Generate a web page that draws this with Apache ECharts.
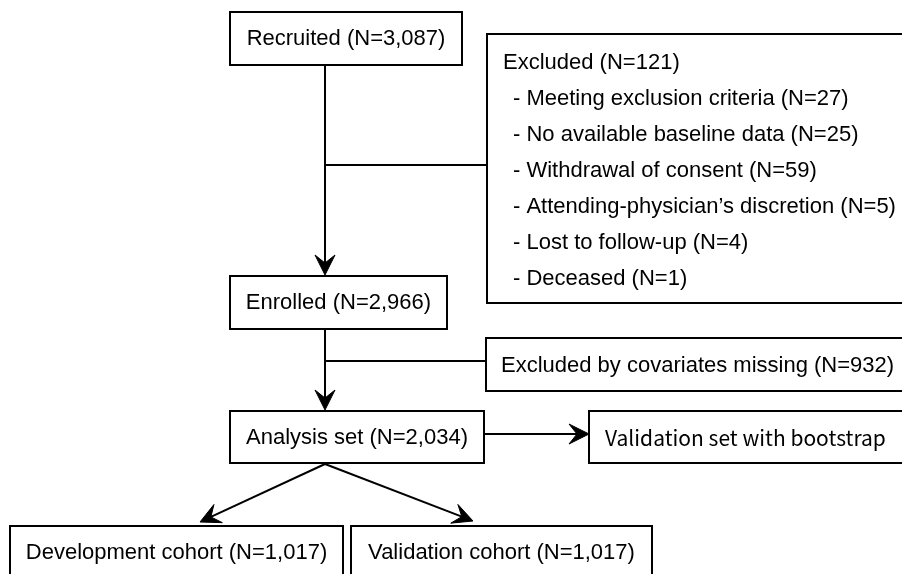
<!DOCTYPE html>
<html>
<head>
<meta charset="utf-8">
<script src="https://cdn.jsdelivr.net/npm/echarts@6/dist/echarts.min.js"></script>
<style>
  html, body { margin: 0; background: #fff; }
  #chart { width: 902px; height: 574px; }
</style>
</head>
<body>
<div id="chart"></div>
<script>
// ---- flow numbers ----
const stageNames = ['Recruited', 'Enrolled', 'Analysis set']
const stageN = [3087, 2966, 2034]
const excludedTotal = 121
const excludedReasons = [
  'Meeting exclusion criteria',
  'No available baseline data',
  'Withdrawal of consent',
  'Attending-physician\u2019s discretion',
  'Lost to follow-up',
  'Deceased'
]
const excludedN = [27, 25, 59, 5, 4, 1]
const covariatesMissingN = 932
const cohortNames = ['Development cohort', 'Validation cohort']
const cohortN = [1017, 1017]
const bootstrapLabel = 'Validation set with bootstrap'

const fmt = n => '(N=' + n.toLocaleString('en-US') + ')'

// ---- layout (units of the hidden axes = pixels) ----
const FONT = '22px "Liberation Sans", Arial, sans-serif'
const FONT_JP = '21px "Noto Sans CJK JP", sans-serif'

// box rectangles: x0, y0, x1, y1
const boxRects = [
  [230, 12, 462, 65],   // recruited
  [230, 276, 447, 329], // enrolled
  [230, 411, 484, 463], // analysis
  [487, 34, 912, 303],  // excluded list
  [486, 338, 912, 391], // covariates missing
  [589, 411, 912, 463], // bootstrap
  [10, 526, 343, 600],  // development
  [351, 526, 652, 600]  // validation cohort
]
const boxTexts = [
  { t: stageNames[0] + ' ' + fmt(stageN[0]), align: 'center', y: 39 },
  { t: stageNames[1] + ' ' + fmt(stageN[1]), align: 'center', y: 303 },
  { t: stageNames[2] + ' ' + fmt(stageN[2]), align: 'center', y: 438 },
  null,
  { t: 'Excluded by covariates missing ' + fmt(covariatesMissingN), align: 'left', x: 501, y: 366 },
  { t: bootstrapLabel, align: 'left', x: 605, y: 438, font: FONT_JP },
  { t: cohortNames[0] + ' ' + fmt(cohortN[0]), align: 'center', y: 553 },
  { t: cohortNames[1] + ' ' + fmt(cohortN[1]), align: 'center', y: 553 }
]

// connectors: x0, y0, x1, y1, arrow(1/0)
const links = [
  [325, 65, 325, 275, 1],
  [325, 165, 487, 165, 0],
  [325, 329, 325, 410, 1],
  [325, 361, 486, 361, 0],
  [484, 434, 589, 434, 1],
  [325, 464, 200, 522, 1],
  [325, 464, 473, 521, 1]
]

// excluded list lines
const listLines = ['Excluded ' + fmt(excludedTotal)].concat(
  excludedReasons.map((r, i) => '- ' + r + ' ' + fmt(excludedN[i]))
)
const listData = listLines.map((s, i) => [i === 0 ? 503 : 513, 63 + i * 36])

function arrowHead(p, q, len, half, notch) {
  const dx = q[0] - p[0], dy = q[1] - p[1]
  const d = Math.hypot(dx, dy)
  const ux = dx / d, uy = dy / d, nx = -uy, ny = ux
  const bx = q[0] - ux * len, by = q[1] - uy * len
  return {
    pts: [
      q,
      [bx + nx * half, by + ny * half],
      [q[0] - ux * (len - notch), q[1] - uy * (len - notch)],
      [bx - nx * half, by - ny * half]
    ],
    base: [q[0] - ux * (len - notch), q[1] - uy * (len - notch)]
  }
}

const chart = echarts.init(document.getElementById('chart'))
const option = {
  animation: false,
  backgroundColor: '#fff',
  grid: { left: 0, right: 0, top: 0, bottom: 0 },
  xAxis: { type: 'value', min: 0, max: 902, show: false },
  yAxis: { type: 'value', min: 0, max: 574, inverse: true, show: false },
  series: [
    {
      type: 'custom',
      name: 'boxes',
      data: boxRects,
      encode: { x: [0, 2], y: [1, 3] },
      renderItem: function(params, api) {
        const a = api.coord([api.value(0), api.value(1)])
        const b = api.coord([api.value(2), api.value(3)])
        const children = [{
          type: 'rect',
          shape: { x: a[0], y: a[1], width: b[0] - a[0], height: b[1] - a[1] },
          style: { fill: '#fff', stroke: '#000', lineWidth: 2 }
        }]
        const tx = boxTexts[params.dataIndex]
        if (tx) {
          const px = tx.align === 'center' ? (a[0] + b[0]) / 2 : api.coord([tx.x, 0])[0]
          const py = api.coord([0, tx.y])[1]
          children.push({
            type: 'text',
            style: {
              text: tx.t, x: px, y: py, fill: '#000',
              font: tx.font || FONT, align: tx.align, verticalAlign: 'middle'
            }
          })
        }
        return { type: 'group', children: children }
      }
    },
    {
      type: 'custom',
      name: 'links',
      data: links,
      encode: { x: [0, 2], y: [1, 3] },
      renderItem: function(params, api) {
        const p = api.coord([api.value(0), api.value(1)])
        const q = api.coord([api.value(2), api.value(3)])
        const children = []
        let end = q
        if (api.value(4)) {
          const h = arrowHead(p, q, 20, 10, 8)
          end = h.base
          children.push({
            type: 'polygon',
            shape: { points: h.pts },
            style: { fill: '#000', stroke: '#000', lineWidth: 1 }
          })
        }
        children.unshift({
          type: 'line',
          shape: { x1: p[0], y1: p[1], x2: end[0], y2: end[1] },
          style: { stroke: '#000', lineWidth: 2 }
        })
        return { type: 'group', children: children }
      }
    },
    {
      type: 'custom',
      name: 'excluded',
      data: listData,
      encode: { x: 0, y: 1 },
      renderItem: function(params, api) {
        const p = api.coord([api.value(0), api.value(1)])
        return {
          type: 'text',
          style: {
            text: listLines[params.dataIndex], x: p[0], y: p[1], fill: '#000',
            font: FONT, align: 'left', verticalAlign: 'middle'
          }
        }
      }
    }
  ]
}
chart.setOption(option)
</script>
</body>
</html>
